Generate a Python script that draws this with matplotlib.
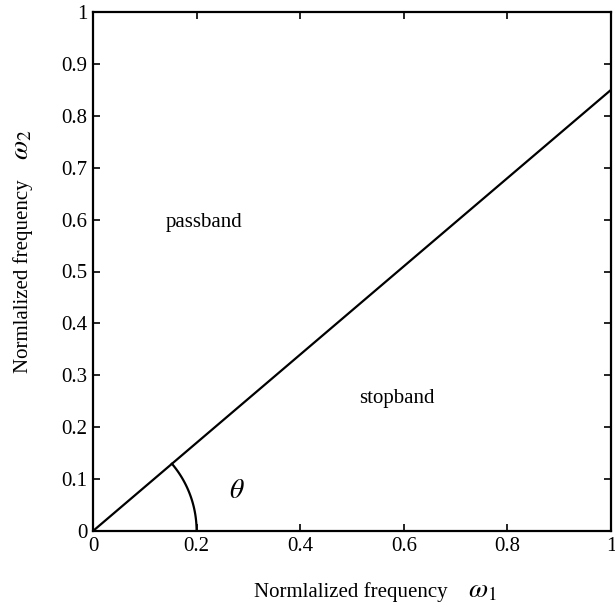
import numpy as np
import matplotlib
matplotlib.use("Agg")
import matplotlib.pyplot as plt

plt.rcParams['font.family'] = ['Liberation Serif', 'DejaVu Serif']
plt.rcParams['mathtext.fontset'] = 'stix'

line_x = [0.0, 1.0]
line_y = [0.0, 0.85]
arc_radius = 0.2
xticks = [0, 0.2, 0.4, 0.6, 0.8, 1]
xtick_labels = ['0', '0.2', '0.4', '0.6', '0.8', '1']
yticks = [0, 0.1, 0.2, 0.3, 0.4, 0.5, 0.6, 0.7, 0.8, 0.9, 1]
ytick_labels = ['0', '0.1', '0.2', '0.3', '0.4', '0.5', '0.6', '0.7', '0.8', '0.9', '1']

W, H = 615, 607
fig = plt.figure(figsize=(W/100, H/100), dpi=100)
ax = fig.add_axes([93/W, (H-531)/H, 518/W, 519/H])

ax.plot(line_x, line_y, color='black', lw=1.6)
theta_end = np.arctan2(line_y[1], line_x[1])
t = np.linspace(0, theta_end, 100)
ax.plot(arc_radius*np.cos(t), arc_radius*np.sin(t), color='black', lw=1.6)

ax.set_xlim(0, 1)
ax.set_ylim(0, 1)
ax.set_xticks(xticks)
ax.set_xticklabels(xtick_labels)
ax.set_yticks(yticks)
ax.set_yticklabels(ytick_labels)
ax.tick_params(direction='in', top=True, right=True, labelsize=15, length=5, width=1.2, pad=4)
for s in ax.spines.values():
    s.set_linewidth(1.6)

ax.text(0.141, 0.594, 'passband', fontsize=15, ha='left', va='center')
ax.text(0.514, 0.256, 'stopband', fontsize=15, ha='left', va='center')
ax.text(0.277, 0.077, r'$\theta$', fontsize=20, ha='center', va='center')

# axis labels
fig.text(351/W, (H-597)/H, 'Normlalized frequency', fontsize=15, ha='center', va='baseline')
fig.text(468/W, (H-597)/H, r'$\omega_1$', fontsize=20, ha='left', va='baseline')
fig.text(28/W, (H-276)/H, 'Normlalized frequency', fontsize=15, ha='center', va='baseline',
         rotation=90, rotation_mode='anchor')
fig.text(28/W, (H-160)/H, r'$\omega_2$', fontsize=20, ha='left', va='baseline',
         rotation=90, rotation_mode='anchor')

fig.savefig('out.png', dpi=100)
